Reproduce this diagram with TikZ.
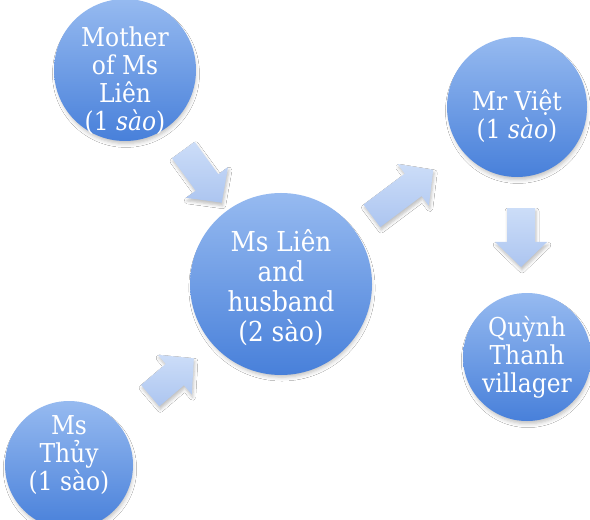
\documentclass[tikz,border=0pt]{standalone}
\usepackage{fontspec}
\setmainfont{DejaVu Serif Condensed}
\usetikzlibrary{calc,shadows.blur}
\definecolor{circtop}{RGB}{150,186,240}
\definecolor{circbot}{RGB}{72,128,218}
\definecolor{arrtop}{RGB}{204,221,248}
\definecolor{arrbot}{RGB}{172,197,240}
\tikzset{
  bubble/.style={circle, inner sep=0pt, top color=circtop, bottom color=circbot,
    blur shadow={shadow xshift=1bp, shadow yshift=-4bp, shadow scale=0.98, shadow blur radius=4bp, shadow opacity=25}},
  bubbletext/.style={inner sep=0pt, text=white, align=center, font=\fontsize{26bp}{28bp}\selectfont},
  bigtext/.style={font=\fontsize{27.5bp}{30bp}\selectfont},
  blockarrow/.style={top color=arrtop, bottom color=arrbot, draw=none,
    blur shadow={shadow xshift=1bp, shadow yshift=-3bp, shadow blur radius=3bp, shadow opacity=25}}
}
\newcommand\blockarr[2]{%
  \coordinate (#1h) at ($(#2)!25bp!(#1)$);
  \path[blockarrow] ($(#1)!14bp!90:(#2)$) -- ($(#1h)!14bp!-90:(#1)$)
    -- ($(#1h)!26bp!-90:(#1)$) -- (#2) -- ($(#1h)!26bp!90:(#1)$)
    -- ($(#1h)!14bp!90:(#1)$) -- ($(#1)!14bp!-90:(#2)$) -- cycle;
}
\begin{document}
\begin{tikzpicture}[x=1bp,y=-1bp]
\fill[white] (0,0) rectangle (590,520);
\useasboundingbox (0,0) rectangle (590,520);
\node[bubble, minimum size=142bp] (mother) at (125,70) {};
\node[bubble, minimum size=182bp] (lien) at (281,284) {};
\node[bubble, minimum size=140bp] (viet) at (517,107) {};
\node[bubble, minimum size=128bp] (quynh) at (527,357) {};
\node[bubble, minimum size=128bp] (thuy) at (69,465) {};
\node[bubbletext] (mothert) at ([yshift=-11bp]mother.center) {Mother\\of Ms\\Liên\\(1 \textit{sào})};
\node[bubbletext, bigtext] (lient) at ([yshift=-4bp]lien.center) {Ms Liên\\and\\husband\\(2 sào)};
\node[bubbletext] (vietet) at ([yshift=-9bp]viet.center) {Mr Việt\\(1 \textit{sào})};
\node[bubbletext] (quynht) at (quynh.center) {Quỳnh\\Thanh\\villager};
\node[bubbletext] (thuyt) at ([yshift=10bp]thuy.center) {Ms\\Thủy\\(1 sào)};
\coordinate (a1s) at ($(mother)!0.374!(lien)$);
\coordinate (a1e) at ($(mother)!0.62!(lien)$);
\coordinate (a2s) at ($(thuy)!0.383!(lien)$);
\coordinate (a2e) at ($(thuy)!0.589!(lien)$);
\coordinate (a3s) at ($(lien)!0.385!(viet)$);
\coordinate (a3e) at ($(lien)!0.645!(viet)$);
\coordinate (a4s) at ($(viet)!0.404!(quynh)$);
\coordinate (a4e) at (a4s |- {$(viet)!0.64!(quynh)$});
\blockarr{a1s}{a1e}
\blockarr{a2s}{a2e}
\blockarr{a3s}{a3e}
\blockarr{a4s}{a4e}
\end{tikzpicture}
\end{document}
